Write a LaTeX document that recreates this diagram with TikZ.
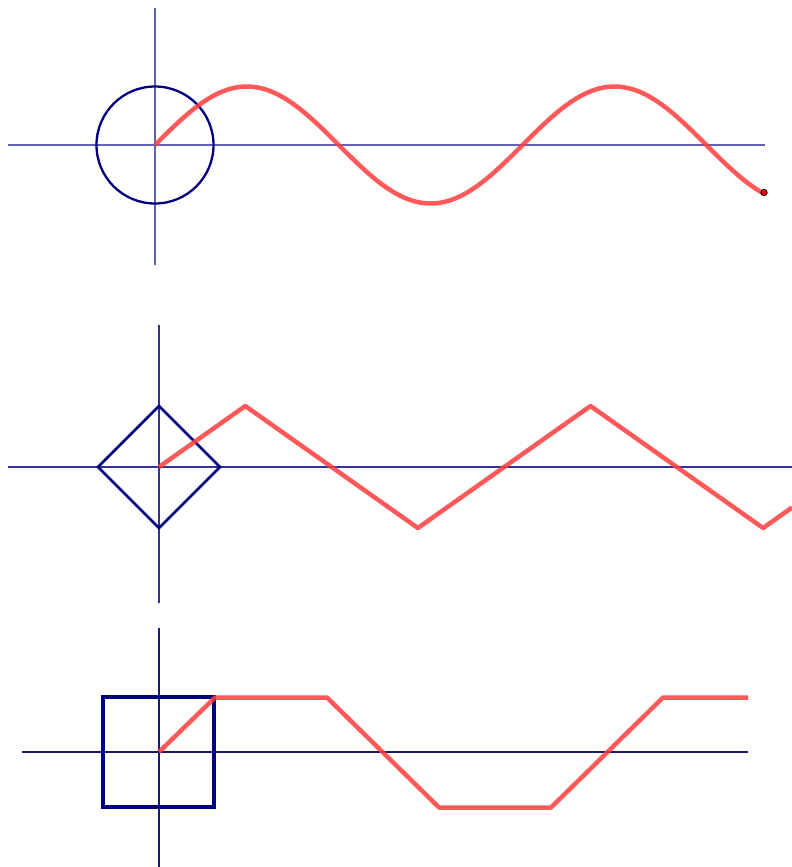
\documentclass[tikz,border=0pt]{standalone}
\begin{document}
\begin{tikzpicture}[x=1pt,y=-1pt,
  axisA/.style={draw={rgb,255:red,100;green,100;blue,180},line width=1.2pt},
  axisB/.style={draw={rgb,255:red,50;green,50;blue,150},line width=1.2pt},
  axisC/.style={draw={rgb,255:red,25;green,25;blue,125},line width=1.2pt},
  outline/.style={draw={rgb,255:red,0;green,0;blue,128},line width=2.3pt},
  wave/.style={draw={rgb,255:red,255;green,60;blue,60},draw opacity=0.85,line width=4.5pt,line join=round}]
\useasboundingbox (0,0) rectangle (792,867);
% panel 1
\draw[axisA] (155,8) -- (155,265);
\draw[axisA] (8,145) -- (765,145);
\draw[outline] (155,145) circle (58.5);
\draw[wave] plot[domain=0:10.39,samples=200,smooth] ({155+58.5*\x},{145-58.5*sin(\x r)});
\fill[red,draw=black,line width=0.8pt] (764,192.5) circle (3.2);
% panel 2
\draw[axisB] (159,325) -- (159,603);
\draw[axisB] (8,467) -- (792,467);
\draw[outline,line width=2.6pt] (159,406) -- (220,467) -- (159,528) -- (98,467) -- cycle;
\draw[wave] (159,467) -- (245.3,406) -- (417.9,528) -- (590.5,406) -- (763.1,528) -- (792,507.5);
% panel 3
\draw[axisC] (159,628) -- (159,867);
\draw[axisC] (22,752) -- (748,752);
\draw[outline,line width=3.2pt] (103,697) rectangle (214,807);
\draw[wave] (159,752) -- (215,697.5) -- (327,697.5) -- (439,807.5) -- (551,807.5) -- (663,697.5) -- (748,697.5);
\end{tikzpicture}
\end{document}
